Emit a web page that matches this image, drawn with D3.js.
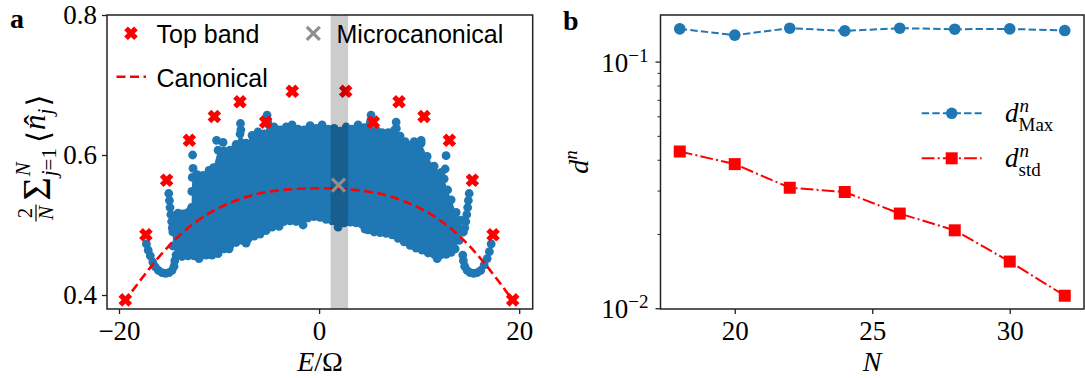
<!DOCTYPE html>
<html><head><meta charset="utf-8">
<script src="https://cdn.jsdelivr.net/npm/d3@7"></script>
<style>body{margin:0;background:#fff}</style>
</head><body><svg id="c" width="1085" height="378"></svg>
<script>
// ---------------- DATA ----------------
// Panel a: top band (red X markers)
const topBandE = [-19.37,-17.31,-15.24,-12.97,-10.47,-7.91,-5.34,-2.68,2.66,5.42,7.99,10.49,13.02,15.32,17.39,19.35];
const topBandV = [0.393,0.486,0.564,0.621,0.655,0.676,0.647,0.691,0.691,0.647,0.676,0.655,0.621,0.564,0.486,0.393];
// Canonical curve
const canonE = [-19.5,-18,-16,-14,-12,-10,-8,-6,-4,-2,0,2,4,6,8,10,12,14,16,18,19.5];
const canonV = [0.3895,0.4185,0.4545,0.4845,0.5075,0.5245,0.5365,0.545,0.5495,0.5517,0.5525,0.5517,0.5495,0.545,0.5365,0.5245,0.5075,0.4845,0.4545,0.4185,0.3895];
// Microcanonical point and window
const microE = [1.94];
const microV = [0.557];
const bandE = [1.15, 2.9];
// Eigenstate cloud: upper / lower envelope
const cloudUpperE = [-14.62,-14.45,-14.1,-13.6,-13.1,-12.75,-12.72,-12.68,-12.2,-11.6,-11.0,-10.55,-10.1,-9.5,-8.9,-8.3,-7.9,-7.3,-6.7,-6.1,-5.5,-5.1,-4.5,-3.9,-3.3,-2.7,-2.1,-1.5,-0.9,-0.3,0.3,0.9,1.5,2.1,2.7,3.3,3.9,4.5,5.1,5.7,6.3,6.9,7.5,8.1,8.6,9.1,9.6,10.2,10.8,11.5,12.2,12.5,12.85,13.2,13.7,14.15,14.4];
const cloudUpperV = [0.49,0.512,0.517,0.516,0.518,0.525,0.548,0.568,0.572,0.571,0.578,0.582,0.607,0.606,0.607,0.615,0.63,0.617,0.628,0.633,0.63,0.644,0.64,0.636,0.64,0.643,0.637,0.636,0.642,0.638,0.643,0.637,0.638,0.634,0.64,0.637,0.643,0.639,0.645,0.636,0.632,0.632,0.635,0.627,0.619,0.614,0.617,0.617,0.598,0.584,0.575,0.566,0.55,0.536,0.518,0.507,0.49];
const cloudLowerE = [-14.62,-14.3,-13.7,-13.1,-12.5,-11.9,-11.3,-10.7,-10.1,-9.5,-8.9,-8.3,-7.7,-7.1,-6.5,-5.9,-5.3,-4.7,-4.1,-3.5,-2.9,-2.3,-1.7,-1.1,-0.5,0.1,0.7,1.3,1.9,2.5,3.1,3.7,4.3,4.9,5.5,6.1,6.7,7.3,7.9,8.5,9.1,9.7,10.3,10.9,11.5,12.1,12.7,13.2,13.6,14.0,14.4];
const cloudLowerV = [0.47,0.457,0.455,0.456,0.456,0.456,0.457,0.457,0.459,0.466,0.471,0.475,0.478,0.48,0.484,0.487,0.492,0.497,0.503,0.505,0.506,0.505,0.507,0.51,0.512,0.511,0.508,0.506,0.503,0.503,0.504,0.503,0.501,0.493,0.49,0.489,0.488,0.486,0.481,0.476,0.471,0.467,0.464,0.46,0.458,0.457,0.458,0.461,0.466,0.478,0.49];
// Isolated eigenstates outside the envelope (spikes, arms, U-shaped tails)
const dotsE = [-12.64,-12.6,-10.25,-9.6,-7.86,-7.82,-5.2,-5.15,5.19,5.15,7.7,7.72,9.5,10.2,12.69,12.6,
  -9.0,-7.3,-4.0,-1.6,1.9,-12.0,4.6,11.8,
  -15.03,-14.96,-14.9,-14.82,-14.74,-14.68,
  -17.26,-17.08,-16.87,-16.62,-16.37,-16.05,-15.7,-15.35,-15.0,-14.7,-14.5,-14.42,
  15.0,14.92,14.85,14.76,14.66,14.56,
  14.36,14.42,14.55,14.8,15.1,15.45,15.8,16.15,16.5,16.8,17.02,17.2];
const dotsV = [0.600,0.581,0.621,0.618,0.645,0.636,0.657,0.648,0.657,0.648,0.647,0.638,0.619,0.621,0.599,0.580,
  0.466,0.474,0.498,0.500,0.497,0.452,0.494,0.452,
  0.545,0.535,0.525,0.515,0.505,0.496,
  0.473,0.464,0.456,0.447,0.44,0.435,0.432,0.431,0.432,0.435,0.441,0.449,
  0.545,0.535,0.525,0.515,0.505,0.496,
  0.457,0.449,0.441,0.435,0.432,0.431,0.432,0.435,0.443,0.452,0.462,0.473];
const ticksA_x = [-20,0,20];
const ticksA_y = [0.4,0.6,0.8];

// Panel b
const sizesN = [18,20,22,24,26,28,30,32];
const dMax = [0.1357,0.128,0.1366,0.1332,0.1366,0.1353,0.1357,0.1336];
const dStd = [0.0432,0.0384,0.0308,0.0296,0.0242,0.0207,0.01546,0.01124];
const ticksB_x = [20,25,30];
const ticksB_y = [0.01,0.1];
const ticksB_yLabels = ['\u22122','\u22121'];
const minorB_y = [0.02,0.03,0.04,0.05,0.06,0.07,0.08,0.09];

// ---------------- DRAW ----------------
const W=1085,H=378;
const svg=d3.select('#c');
svg.append('rect').attr('width',W).attr('height',H).attr('fill','#fff');
const SERIF='"Liberation Serif","DejaVu Serif",serif';
const SANS='"Liberation Sans","DejaVu Sans",sans-serif';
const BLUE='#1f77b4', RED='#ff0000', FRAME='#222';
const defs=svg.append('defs');

function xMarkPath(cx,cy,a,w){
  const pts=[[w,a],[w,w],[a,w],[a,-w],[w,-w],[w,-a],[-w,-a],[-w,-w],[-a,-w],[-a,w],[-w,w],[-w,a]];
  const c=Math.SQRT1_2;
  return 'M'+pts.map(([x,y])=>[cx+(x-y)*c, cy+(x+y)*c].join(',')).join('L')+'Z';
}
function thinX(g,cx,cy,s,color,sw){
  g.append('path').attr('d',`M${cx-s},${cy-s}L${cx+s},${cy+s}M${cx-s},${cy+s}L${cx+s},${cy-s}`)
   .attr('stroke',color).attr('stroke-width',sw).attr('fill','none');
}

// ===== Panel a =====
const ax={l:107,r:532.7,t:15,b:309};
const xA=d3.scaleLinear().domain([-21.2,21.35]).range([ax.l,ax.r]);
const yA=d3.scaleLinear().domain([0.38,0.8]).range([ax.b,ax.t]);
defs.append('clipPath').attr('id','clipA').append('rect')
  .attr('x',ax.l).attr('y',ax.t).attr('width',ax.r-ax.l).attr('height',ax.b-ax.t);
const pA=svg.append('g').attr('clip-path','url(#clipA)');

const upper=cloudUpperE.map((e,i)=>[e,cloudUpperV[i]]);
const lower=cloudLowerE.map((e,i)=>[e,cloudLowerV[i]]);
const poly=upper.concat(lower.slice().reverse());
pA.append('path').attr('d',d3.line().x(d=>xA(d[0])).y(d=>yA(d[1]))(poly)+'Z').attr('fill',BLUE);
const dots=upper.concat(lower, dotsE.map((e,i)=>[e,dotsV[i]]));
pA.selectAll('circle.cl').data(dots).join('circle').attr('class','cl')
  .attr('cx',d=>xA(d[0])).attr('cy',d=>yA(d[1])).attr('r',4.4).attr('fill',BLUE);

// canonical
pA.append('path').datum(canonE.map((e,i)=>[e,canonV[i]]))
  .attr('d',d3.line().curve(d3.curveMonotoneX).x(d=>xA(d[0])).y(d=>yA(d[1])))
  .attr('fill','none').attr('stroke',RED).attr('stroke-width',2.6).attr('stroke-dasharray','9,4.5');

// top band
pA.selectAll('path.tb').data(topBandE.map((e,i)=>[e,topBandV[i]])).join('path').attr('class','tb')
  .attr('d',d=>xMarkPath(xA(d[0]),yA(d[1]),7,2.6)).attr('fill',RED);

// microcanonical window
pA.append('rect').attr('x',xA(bandE[0])).attr('width',xA(bandE[1])-xA(bandE[0]))
  .attr('y',ax.t).attr('height',ax.b-ax.t).attr('fill','#000').attr('fill-opacity',0.2);
microE.forEach((e,i)=>thinX(pA,xA(e),yA(microV[i]),6.5,'#8f8f8f',3.2));

// frame
svg.append('rect').attr('x',ax.l).attr('y',ax.t).attr('width',ax.r-ax.l).attr('height',ax.b-ax.t)
  .attr('fill','none').attr('stroke',FRAME).attr('stroke-width',1.5);

// axes a
const fmtMinus=d=>d3.format('d')(d).replace('-','\u2212');
const axA_x=svg.append('g').attr('transform',`translate(0,${ax.b})`)
  .call(d3.axisBottom(xA).tickValues(ticksA_x).tickSize(5).tickPadding(7).tickFormat(fmtMinus));
const axA_y=svg.append('g').attr('transform',`translate(${ax.l},0)`)
  .call(d3.axisLeft(yA).tickValues(ticksA_y).tickSize(5).tickPadding(5).tickFormat(d3.format('.1f')));
[axA_x,axA_y].forEach(g=>{
  g.select('.domain').remove();
  g.selectAll('line').attr('stroke',FRAME).attr('stroke-width',1.3);
  g.selectAll('text').attr('font-family',SERIF).attr('font-size',27).attr('fill','#000');
});

// legend a
svg.append('path').attr('d',xMarkPath(131,33.3,7,2.6)).attr('fill',RED);
svg.append('text').attr('x',156.5).attr('y',43.3).attr('font-family',SANS).attr('font-size',25).text('Top band');
thinX(svg,313.3,33.3,6.5,'#8f8f8f',3.2);
svg.append('text').attr('x',336.5).attr('y',43.3).attr('font-family',SANS).attr('font-size',25).text('Microcanonical');
svg.append('line').attr('x1',116.5).attr('x2',146).attr('y1',76.7).attr('y2',76.7)
  .attr('stroke',RED).attr('stroke-width',2.6).attr('stroke-dasharray','9,4.5');
svg.append('text').attr('x',156.5).attr('y',87.3).attr('font-family',SANS).attr('font-size',25).text('Canonical');

// axis labels a
(function(){
  const t=svg.append('text').attr('x',320).attr('y',371).attr('text-anchor','middle')
    .attr('font-family',SERIF).attr('font-size',28);
  t.append('tspan').attr('font-style','italic').text('E');
  t.append('tspan').text('/\u03A9');
})();
(function(){
  const g=svg.append('g').attr('transform','translate(45,158) rotate(-90)');
  const inner=g.append('g');
  const fs=31, ss=21;
  let x=0;
  const num=inner.append('text').text('2').attr('font-size',ss).attr('font-family',SERIF).attr('text-anchor','middle');
  const den=inner.append('text').text('N').attr('font-size',ss).attr('font-style','italic').attr('font-family',SERIF).attr('text-anchor','middle');
  const fw=Math.max(num.node().getComputedTextLength(),den.node().getComputedTextLength())+3;
  num.attr('x',x+fw/2).attr('y',-13);
  den.attr('x',x+fw/2).attr('y',8);
  inner.append('line').attr('x1',x).attr('x2',x+fw).attr('y1',-9).attr('y2',-9).attr('stroke','#000').attr('stroke-width',1.2);
  x+=fw+4;
  const sig=inner.append('text').text('\u03A3').attr('x',x).attr('y',5).attr('font-size',40).attr('font-family',SERIF);
  x+=sig.node().getComputedTextLength()+1;
  const sup=inner.append('text').attr('x',x).attr('y',-15).attr('font-size',ss).attr('font-family',SERIF).attr('font-style','italic').text('N');
  const sub=inner.append('text').attr('x',x).attr('y',11).attr('font-size',ss).attr('font-family',SERIF);
  sub.append('tspan').attr('font-style','italic').text('j');
  sub.append('tspan').text('=1');
  x+=Math.max(sup.node().getComputedTextLength(),sub.node().getComputedTextLength())+5;
  const lb=inner.append('text').text('\u27E8').attr('x',x).attr('y',4).attr('font-size',fs).attr('font-family','"DejaVu Serif",serif');
  x+=lb.node().getComputedTextLength()+1;
  const n=inner.append('text').text('n').attr('x',x).attr('y',0).attr('font-size',fs).attr('font-family',SERIF).attr('font-style','italic');
  const nw=n.node().getComputedTextLength();
  inner.append('text').text('\u02C6').attr('x',x+nw/2+2).attr('y',1).attr('text-anchor','middle').attr('font-size',fs).attr('font-family',SERIF);
  x+=nw;
  const js=inner.append('text').text('j').attr('x',x).attr('y',7).attr('font-size',ss).attr('font-family',SERIF).attr('font-style','italic');
  x+=js.node().getComputedTextLength()+2;
  const rb=inner.append('text').text('\u27E9').attr('x',x).attr('y',4).attr('font-size',fs).attr('font-family','"DejaVu Serif",serif');
  x+=rb.node().getComputedTextLength();
  inner.attr('transform',`translate(${-x/2},0)`);
})();
svg.append('text').attr('x',10).attr('y',28).attr('font-family',SERIF).attr('font-weight','bold').attr('font-size',28).text('a');

// ===== Panel b =====
const bx={l:660.5,r:1084,t:15,b:309};
const xB=d3.scaleLinear().domain([17.3,32.7]).range([bx.l,bx.r]);
const yB=d3.scaleLog().domain([0.00993,0.1545]).range([bx.b,bx.t]);
const pB=svg.append('g');

const lineB=d3.line().x(d=>xB(d[0])).y(d=>yB(d[1]));
const maxPts=sizesN.map((n,i)=>[n,dMax[i]]);
const stdPts=sizesN.map((n,i)=>[n,dStd[i]]);
pB.append('path').attr('d',lineB(maxPts)).attr('fill','none').attr('stroke',BLUE).attr('stroke-width',2).attr('stroke-dasharray','7.4,3.2');
pB.append('path').attr('d',lineB(stdPts)).attr('fill','none').attr('stroke',RED).attr('stroke-width',2).attr('stroke-dasharray','12.8,3.2,2,3.2');
pB.selectAll('circle').data(maxPts).join('circle').attr('cx',d=>xB(d[0])).attr('cy',d=>yB(d[1])).attr('r',5.8).attr('fill',BLUE);
pB.selectAll('rect').data(stdPts).join('rect').attr('x',d=>xB(d[0])-6).attr('y',d=>yB(d[1])-6).attr('width',12).attr('height',12).attr('fill',RED);

svg.append('rect').attr('x',bx.l).attr('y',bx.t).attr('width',bx.r-bx.l).attr('height',bx.b-bx.t)
  .attr('fill','none').attr('stroke',FRAME).attr('stroke-width',1.5);

const axB_x=svg.append('g').attr('transform',`translate(0,${bx.b})`)
  .call(d3.axisBottom(xB).tickValues(ticksB_x).tickSize(5).tickPadding(7).tickFormat(d3.format('d')));
const axB_y=svg.append('g').attr('transform',`translate(${bx.l},0)`)
  .call(d3.axisLeft(yB).tickValues(ticksB_y).tickSize(5).tickFormat(''));
const axB_ym=svg.append('g').attr('transform',`translate(${bx.l},0)`)
  .call(d3.axisLeft(yB).tickValues(minorB_y).tickSize(3).tickFormat(''));
[axB_x,axB_y,axB_ym].forEach(g=>{
  g.select('.domain').remove();
  g.selectAll('line').attr('stroke',FRAME).attr('stroke-width',1.3);
  g.selectAll('text').attr('font-family',SERIF).attr('font-size',27).attr('fill','#000');
});
axB_ym.selectAll('line').attr('stroke-width',1);
ticksB_y.forEach((v,i)=>{
  const t=svg.append('text').attr('x',bx.l-12).attr('y',yB(v)+10).attr('text-anchor','end').attr('font-family',SERIF).attr('font-size',27);
  t.append('tspan').text('10');
  t.append('tspan').attr('font-size',19).attr('dy',-10).text(ticksB_yLabels[i]);
});

svg.append('text').attr('x',872).attr('y',371).attr('text-anchor','middle').attr('font-family',SERIF)
  .attr('font-size',28).attr('font-style','italic').text('N');
(function(){
  const g=svg.append('g').attr('transform','translate(588,162) rotate(-90)');
  const t=g.append('text').attr('text-anchor','middle').attr('font-family',SERIF).attr('font-size',28);
  t.append('tspan').attr('font-style','italic').text('d');
  t.append('tspan').attr('font-style','italic').attr('font-size',19).attr('dy',-11).text('n');
})();
svg.append('text').attr('x',563).attr('y',29.5).attr('font-family',SERIF).attr('font-weight','bold').attr('font-size',28).text('b');

// legend b
function legendRow(y,color,dash,marker,sub){
  svg.append('line').attr('x1',921.7).attr('x2',981.7).attr('y1',y).attr('y2',y)
    .attr('stroke',color).attr('stroke-width',2).attr('stroke-dasharray',dash);
  if(marker==='circle') svg.append('circle').attr('cx',951.7).attr('cy',y).attr('r',5.8).attr('fill',color);
  else svg.append('rect').attr('x',951.7-6).attr('y',y-6).attr('width',12).attr('height',12).attr('fill',color);
  const d=svg.append('text').attr('x',1005).attr('y',y+9).attr('font-family',SERIF).attr('font-size',27).attr('font-style','italic').text('d');
  const w=d.node().getComputedTextLength();
  svg.append('text').attr('x',1005+w+1).attr('y',y-1).attr('font-family',SERIF).attr('font-size',19).attr('font-style','italic').text('n');
  svg.append('text').attr('x',1005+w).attr('y',y+18).attr('font-family',SERIF).attr('font-size',19).text(sub);
}
legendRow(113.3,BLUE,'7.4,3.2','circle','Max');
legendRow(158.3,RED,'12.8,3.2,2,3.2','square','std');
</script></body></html>
